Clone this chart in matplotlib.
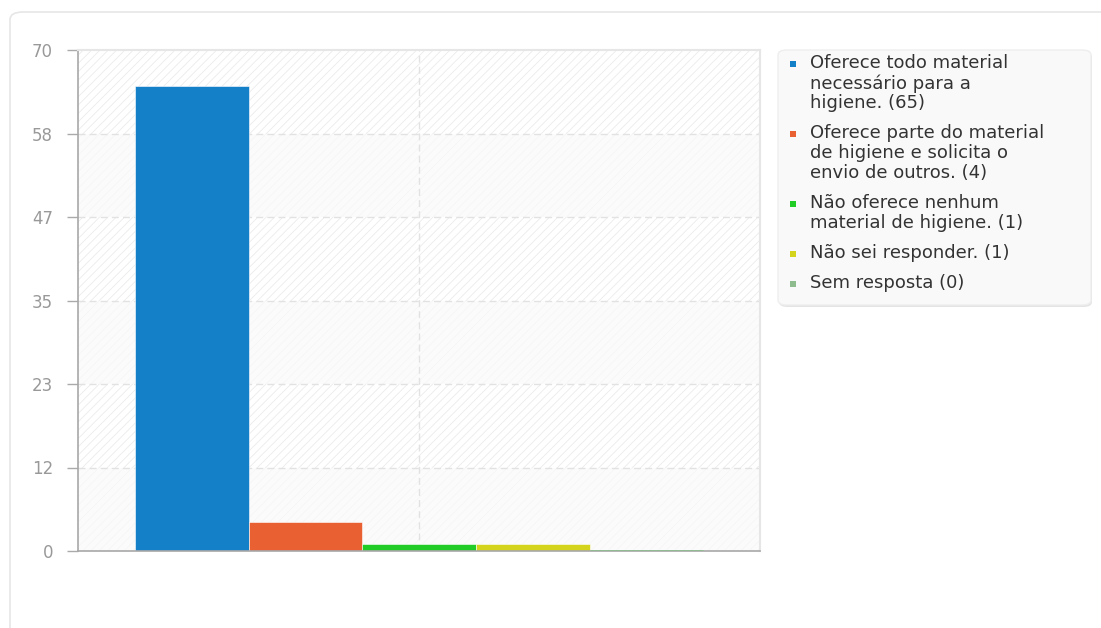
import numpy as np
import matplotlib.pyplot as plt
from matplotlib.patches import FancyBboxPatch, Rectangle

# --- data ---
labels = [
    "Oferece todo material\nnecessário para a\nhigiene. (65)",
    "Oferece parte do material\nde higiene e solicita o\nenvio de outros. (4)",
    "Não oferece nenhum\nmaterial de higiene. (1)",
    "Não sei responder. (1)",
    "Sem resposta (0)",
]
values = [65, 4, 1, 1, 0]
colors = ["#1380c7", "#e96033", "#22cc26", "#d4d41c", "#8fbc8f"]
y_max = 70
n_ticks = 7

plt.rcParams['hatch.linewidth'] = 0.6
fig = plt.figure(figsize=(11.01, 6.28), dpi=100)
W, H = 1101, 628

# outer card frame
card = FancyBboxPatch((10 / W, -0.1), 1.2, (628 - 12) / H + 0.1,
                      boxstyle="round,pad=0,rounding_size=0.012",
                      transform=fig.transFigure, facecolor="white",
                      edgecolor="#e6e6e6", linewidth=1.2, zorder=-1)
fig.patches.append(card)

ax = fig.add_axes([78 / W, (628 - 551) / H, (760 - 78) / W, (551 - 50) / H], zorder=1)
ax.set_xlim(-0.5, 5.5)
ax.set_ylim(0, y_max)
ax.set_facecolor("white")

ticks = np.linspace(0, y_max, n_ticks)

# striped background with alternating bands
ax.add_patch(Rectangle((-0.5, 0), 6, y_max, facecolor="none", hatch="////",
                       edgecolor="#ebebeb", linewidth=0, zorder=0))
for i in range(len(ticks) - 1):
    if i % 2 == 0:
        ax.axhspan(ticks[i], ticks[i + 1], facecolor="#fafafa", alpha=0.7,
                   linewidth=0, zorder=0.5)

for t in ticks[1:-1]:
    ax.axhline(t, color="#e2e2e2", linestyle=(0, (5, 3)), linewidth=1, zorder=1)
ax.axvline(2.5, color="#e2e2e2", linestyle=(0, (5, 3)), linewidth=1, zorder=1)

x = np.arange(len(values))
for xi, v, c in zip(x, values, colors):
    if v == 0:
        ax.bar(xi, v, width=1, align="edge", color=c, edgecolor=c,
               linewidth=2, zorder=5)
    else:
        ax.bar(xi, v, width=1, align="edge", color=c, edgecolor="#ffffff",
               linewidth=0.4, zorder=3)

ax.set_yticks(ticks)
ax.set_yticklabels([str(int(round(t))) for t in ticks])
ax.set_xticks([])
ax.tick_params(axis="y", length=8, width=1, color="#aaaaaa", labelcolor="#999999",
               labelsize=12, pad=10)
for s in ["left", "bottom"]:
    ax.spines[s].set_color("#a8a8a8")
    ax.spines[s].set_linewidth(1.2)
for s in ["top", "right"]:
    ax.spines[s].set_color("#e6e6e6")
    ax.spines[s].set_linewidth(1.5)
ax.spines["bottom"].set_zorder(4)

# legend box
lx0, ly0, lx1, ly1 = 778, 50, 1091, 305
legbox = FancyBboxPatch((lx0 / W, 1 - ly1 / H), (lx1 - lx0) / W, (ly1 - ly0) / H,
                        boxstyle="round,pad=0,rounding_size=0.008",
                        transform=fig.transFigure, facecolor="#f9f9f9",
                        edgecolor="#eeeeee", linewidth=1, zorder=2)
shadow = FancyBboxPatch(((lx0 + 1) / W, 1 - (ly1 + 2) / H), (lx1 - lx0) / W, (ly1 - ly0) / H,
                        boxstyle="round,pad=0,rounding_size=0.008",
                        transform=fig.transFigure, facecolor="#e4e4e4",
                        edgecolor="none", zorder=1.9)
fig.patches.append(shadow)
fig.patches.append(legbox)

line_h = 20
gap = 10
y = 54
for lab, c in zip(labels, colors):
    nl = lab.count("\n") + 1
    fig.text(810 / W, 1 - y / H, lab, ha="left", va="top", fontsize=13,
             color="#333333", linespacing=1.14, zorder=3)
    fig.patches.append(Rectangle((790 / W, 1 - (y + 13) / H), 6 / W, 6 / H,
                                 transform=fig.transFigure, facecolor=c,
                                 edgecolor="none", zorder=3))
    y += nl * line_h + gap

fig.savefig("out.png", dpi=100)
